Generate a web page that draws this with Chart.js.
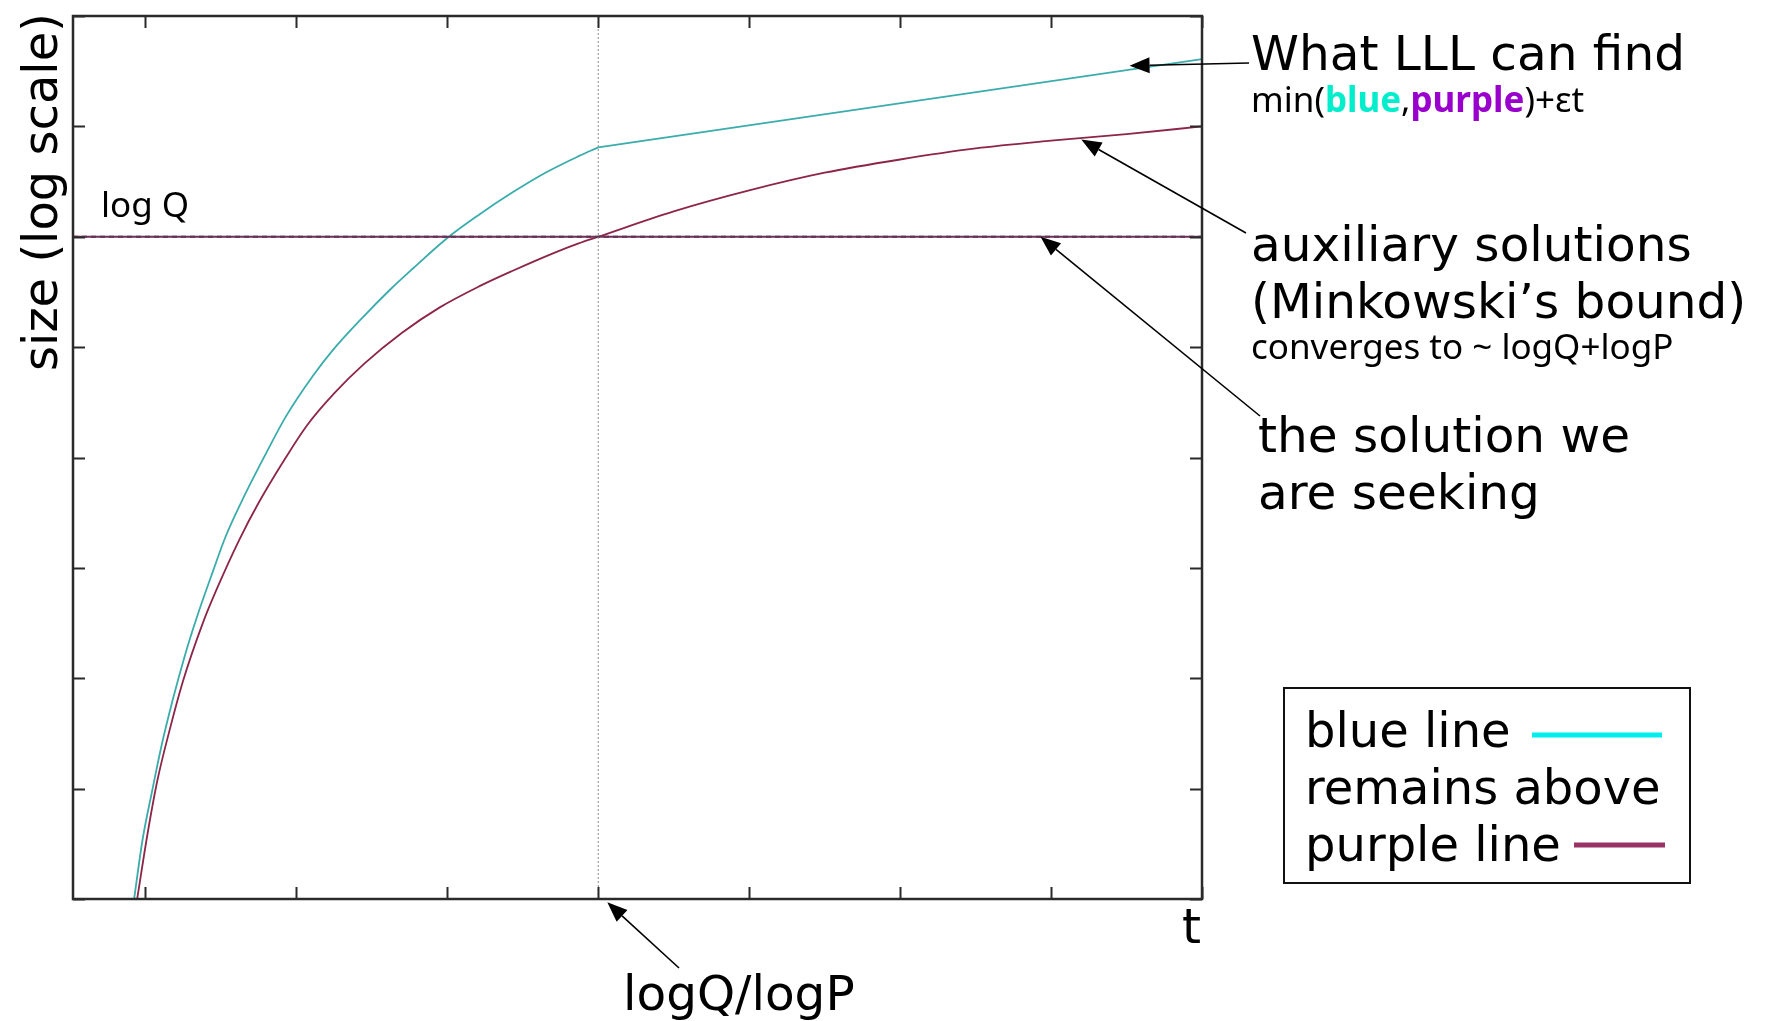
<!DOCTYPE html>
<html><head><meta charset="utf-8">
<script src="https://cdn.jsdelivr.net/npm/chart.js@4/dist/chart.umd.min.js"></script>
<style>html,body{margin:0;padding:0;background:#fff;overflow:hidden}canvas{display:block}</style>
</head><body>
<canvas id="c" width="1769" height="1021"></canvas>
<script>
// ---- data (axis units = tick spacings) ----
const xTicks = [0, 1, 2, 3, 4, 5, 6, 7];
const yTicks = [0, 1, 2, 3, 4, 5, 6, 7, 8];
const xRange = [-0.48, 7];
const yRange = [0, 8];

// blue line (what LLL can find): rising part up to logQ/logP ...
const blueT = [-0.075, -0.02, 0.046, 0.105, 0.18, 0.26, 0.34, 0.45, 0.53, 0.64, 0.80, 0.93, 1.11, 1.24, 1.44, 1.62, 1.77, 2.01, 2.21, 2.43, 2.65, 2.87, 3.0];
const blueV = [0, 0.53, 0.99, 1.38, 1.80, 2.20, 2.55, 2.98, 3.28, 3.61, 4.04, 4.37, 4.74, 4.97, 5.27, 5.52, 5.71, 6.0, 6.20, 6.40, 6.58, 6.73, 6.81];
// ... then the straight +εt part
const blueLinT = [3.0, 7.0];
const blueLinV = [6.81, 7.61];

// purple line: auxiliary solutions (Minkowski's bound)
const purpleT = [-0.055, 0.015, 0.08, 0.16, 0.25, 0.38, 0.47, 0.62, 0.75, 0.93, 1.07, 1.25, 1.45, 1.70, 1.95, 2.21, 2.43, 2.70, 2.87, 3.0, 3.5, 4.0, 4.5, 5.0, 5.5, 6.0, 6.5, 7.0];
const purpleV = [0, 0.60, 1.08, 1.53, 1.98, 2.50, 2.80, 3.25, 3.59, 4.00, 4.29, 4.58, 4.85, 5.13, 5.36, 5.55, 5.69, 5.85, 5.94, 6.0, 6.23, 6.42, 6.58, 6.70, 6.80, 6.87, 6.93, 7.0];

// the solution we are seeking: constant log Q
const logQLevel = 6;
// logQ/logP marker on the t axis
const crossoverT = 3;

// arrow targets (data coordinates on the curves)
const arrowLLL = {t: 6.52, v: 7.55};
const arrowAux = {t: 6.2, v: 6.88};
const arrowSol = {t: 5.93, v: 6.0};
const arrowCross = {t: 3.06, v: -0.03};

// colours
const plotBlue = '#3aacac';
const plotPurple = '#8c2548';
const legendBlue = '#00eeee';
const legendPurple = '#993366';
const wordBlue = '#00eecc';
const wordPurple = '#9900cc';

const toXY = (xs, ys) => xs.map((x, i) => ({x: x, y: ys[i]}));

const BIG = '48.5px "DejaVu Sans"';
const LEG = '48px "DejaVu Sans"';
const SMALL = '35px "Noto Sans"';

function arrow(ctx, x1, y1, x2, y2) {
  const ang = Math.atan2(y2 - y1, x2 - x1);
  const L = 20, W = 8;
  const bx = x2 - L * Math.cos(ang), by = y2 - L * Math.sin(ang);
  ctx.save();
  ctx.strokeStyle = '#000'; ctx.fillStyle = '#000'; ctx.lineWidth = 1.6;
  ctx.beginPath(); ctx.moveTo(x1, y1); ctx.lineTo(bx, by); ctx.stroke();
  ctx.beginPath();
  ctx.moveTo(x2, y2);
  ctx.lineTo(bx + W * Math.sin(ang), by - W * Math.cos(ang));
  ctx.lineTo(bx - W * Math.sin(ang), by + W * Math.cos(ang));
  ctx.closePath(); ctx.fill();
  ctx.restore();
}

const deco = {
  id: 'deco',
  afterDatasetsDraw(chart) {
    const ctx = chart.ctx, a = chart.chartArea;
    const xs = chart.scales.x, ys = chart.scales.y;
    ctx.save();
    // frame
    ctx.strokeStyle = '#2a2a2a'; ctx.lineWidth = 2.5;
    ctx.strokeRect(a.left, a.top, a.right - a.left, a.bottom - a.top);
    // inward ticks
    ctx.lineWidth = 2;
    const TL = 12;
    ctx.beginPath();
    xTicks.forEach(t => {
      const px = Math.round(xs.getPixelForValue(t)) + 0.5;
      ctx.moveTo(px, a.bottom); ctx.lineTo(px, a.bottom - TL);
      ctx.moveTo(px, a.top); ctx.lineTo(px, a.top + TL);
    });
    yTicks.forEach(v => {
      const py = Math.round(ys.getPixelForValue(v)) + 0.5;
      ctx.moveTo(a.left, py); ctx.lineTo(a.left + TL, py);
      ctx.moveTo(a.right, py); ctx.lineTo(a.right - TL, py);
    });
    ctx.stroke();

    // texts
    ctx.fillStyle = '#000';
    ctx.textBaseline = 'alphabetic';
    ctx.textAlign = 'left';
    ctx.font = BIG;
    ctx.fillText('What LLL can find', 1251, 70);
    ctx.fillText('auxiliary solutions', 1251, 261);
    ctx.fillText('(Minkowski\u2019s bound)', 1251, 318);
    ctx.fillText('the solution we', 1258, 452);
    ctx.fillText('are seeking', 1258, 509);
    ctx.fillText('t', 1182, 943);
    ctx.fillText('logQ/logP', 623, 1010);

    // min(blue,purple)+εt
    let x = 1251;
    const parts = [
      ['min(', SMALL, '#000'],
      ['blue', 'bold ' + SMALL, wordBlue],
      [',', SMALL, '#000'],
      ['purple', 'bold ' + SMALL, wordPurple],
      [')+\u03b5t', SMALL, '#000']
    ];
    parts.forEach(p => {
      ctx.font = p[1]; ctx.fillStyle = p[2];
      ctx.fillText(p[0], x, 112);
      x += ctx.measureText(p[0]).width;
    });
    ctx.fillStyle = '#000';
    ctx.font = SMALL;
    ctx.fillText('converges to ~ logQ+logP', 1251, 359);
    ctx.fillText('log Q', 101, 217);

    // y axis title
    ctx.save();
    ctx.translate(57, 192);
    ctx.rotate(-Math.PI / 2);
    ctx.textAlign = 'center';
    ctx.font = '48px "DejaVu Sans"';
    ctx.fillText('size (log scale)', 0, 0);
    ctx.restore();

    // arrows
    arrow(ctx, 1249, 63, xs.getPixelForValue(arrowLLL.t), ys.getPixelForValue(arrowLLL.v));
    arrow(ctx, 1246, 233, xs.getPixelForValue(arrowAux.t), ys.getPixelForValue(arrowAux.v));
    arrow(ctx, 1260, 416, xs.getPixelForValue(arrowSol.t), ys.getPixelForValue(arrowSol.v));
    arrow(ctx, 679, 968, xs.getPixelForValue(arrowCross.t), ys.getPixelForValue(arrowCross.v));

    // legend box
    ctx.strokeStyle = '#111'; ctx.lineWidth = 2;
    ctx.strokeRect(1284, 688, 406, 195);
    ctx.font = LEG; ctx.fillStyle = '#000';
    ctx.fillText('blue line', 1305, 747);
    ctx.fillText('remains above', 1305, 804);
    ctx.fillText('purple line', 1305, 861);
    ctx.lineWidth = 5;
    ctx.strokeStyle = legendBlue;
    ctx.beginPath(); ctx.moveTo(1532, 735); ctx.lineTo(1662, 735); ctx.stroke();
    ctx.strokeStyle = legendPurple;
    ctx.beginPath(); ctx.moveTo(1574, 845); ctx.lineTo(1665, 845); ctx.stroke();
    ctx.restore();
  }
};

new Chart(document.getElementById('c'), {
  type: 'line',
  data: {
    datasets: [
      {
        data: toXY([crossoverT, crossoverT], [yRange[0], yRange[1]]),
        borderColor: '#8a8a8a', borderWidth: 1, borderDash: [2, 2], pointRadius: 0
      },
      {
        data: toXY([xRange[0], xRange[1]], [logQLevel, logQLevel]),
        borderColor: '#6e2f58', borderWidth: 2, pointRadius: 0
      },
      {
        data: toXY([xRange[0], xRange[1]], [logQLevel, logQLevel]),
        borderColor: '#222', borderWidth: 2, borderDash: [5, 4], pointRadius: 0
      },
      {
        data: toXY(purpleT, purpleV),
        borderColor: plotPurple, borderWidth: 1.8, pointRadius: 0, cubicInterpolationMode: 'monotone'
      },
      {
        data: toXY(blueT, blueV),
        borderColor: plotBlue, borderWidth: 1.8, pointRadius: 0, cubicInterpolationMode: 'monotone'
      },
      {
        data: toXY(blueLinT, blueLinV),
        borderColor: plotBlue, borderWidth: 1.8, pointRadius: 0
      }
    ]
  },
  options: {
    responsive: false,
    devicePixelRatio: 1,
    animation: false,
    layout: {padding: {left: 73, right: 567, top: 16, bottom: 122}},
    plugins: {legend: {display: false}, tooltip: {enabled: false}, title: {display: false}},
    scales: {
      x: {type: 'linear', min: xRange[0], max: xRange[1], display: false},
      y: {type: 'linear', min: yRange[0], max: yRange[1], display: false}
    }
  },
  plugins: [deco]
});
</script>
</body></html>
